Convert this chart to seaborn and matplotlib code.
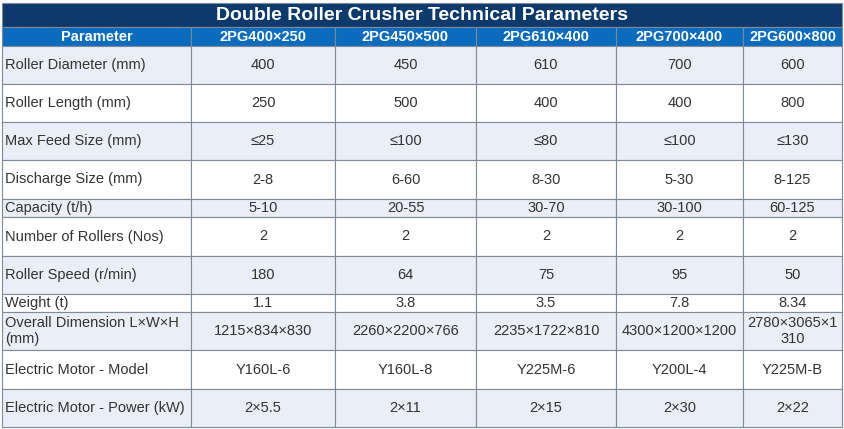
import matplotlib.pyplot as plt
import matplotlib.patches as mpatches
import seaborn as sns

title = 'Double Roller Crusher Technical Parameters'
header = ['Parameter', '2PG400×250', '2PG450×500', '2PG610×400', '2PG700×400', '2PG600×800']
params = ['Roller Diameter (mm)', 'Roller Length (mm)', 'Max Feed Size (mm)', 'Discharge Size (mm)',
          'Capacity (t/h)', 'Number of Rollers (Nos)', 'Roller Speed (r/min)', 'Weight (t)',
          'Overall Dimension L×W×H\n(mm)', 'Electric Motor - Model', 'Electric Motor - Power (kW)']
m1 = ['400', '250', '≤25', '2-8', '5-10', '2', '180', '1.1', '1215×834×830', 'Y160L-6', '2×5.5']
m2 = ['450', '500', '≤100', '6-60', '20-55', '2', '64', '3.8', '2260×2200×766', 'Y160L-8', '2×11']
m3 = ['610', '400', '≤80', '8-30', '30-70', '2', '75', '3.5', '2235×1722×810', 'Y225M-6', '2×15']
m4 = ['700', '400', '≤100', '5-30', '30-100', '2', '95', '7.8', '4300×1200×1200', 'Y200L-4', '2×30']
m5 = ['600', '800', '≤130', '8-125', '60-125', '2', '50', '8.34', '2780×3065×1\n310', 'Y225M-B', '2×22']

# layout (pixels)
col_x = [2, 191, 335, 476, 616, 743, 842]
row_y = [46, 84, 122, 160, 199, 217, 256, 294, 312, 350, 389, 427]

sns.set_theme(style='white')
plt.rcParams['font.family'] = ['Liberation Sans Narrow', 'Liberation Sans', 'DejaVu Sans']

fig = plt.figure(figsize=(8.44, 4.29), dpi=100)
ax = fig.add_axes([0, 0, 1, 1])
ax.set_xlim(0, 844)
ax.set_ylim(429, 0)
ax.axis('off')

line = '#7f8a99'
# title bar
ax.add_patch(mpatches.Rectangle((col_x[0], 3), col_x[-1] - col_x[0], 24, fc='#0d3a6c', ec=line, lw=0.8))
ax.text(422, 15.5, title, ha='center', va='center', color='white', fontsize=14, fontweight='bold')
# header
for j, h in enumerate(header):
    ax.add_patch(mpatches.Rectangle((col_x[j], 27), col_x[j + 1] - col_x[j], 19, fc='#0b6bbd', ec=line, lw=0.8))
    ax.text((col_x[j] + col_x[j + 1]) / 2, 37, h, ha='center', va='center', color='white',
            fontsize=10.5, fontweight='bold')

cols = [params, m1, m2, m3, m4, m5]
for i in range(len(params)):
    y0, y1 = row_y[i], row_y[i + 1]
    fc = '#e9eef7' if i % 2 == 0 else 'white'
    for j, c in enumerate(cols):
        ax.add_patch(mpatches.Rectangle((col_x[j], y0), col_x[j + 1] - col_x[j], y1 - y0,
                                        fc=fc, ec=line, lw=0.8))
        if j == 0:
            ax.text(col_x[0] + 3, (y0 + y1) / 2, c[i], ha='left', va='center', color='#333333',
                    fontsize=10.5, linespacing=1.25)
        else:
            ax.text((col_x[j] + col_x[j + 1]) / 2, (y0 + y1) / 2, c[i], ha='center', va='center',
                    color='#333333', fontsize=10.5, linespacing=1.25)

fig.savefig('out.png', dpi=100)
